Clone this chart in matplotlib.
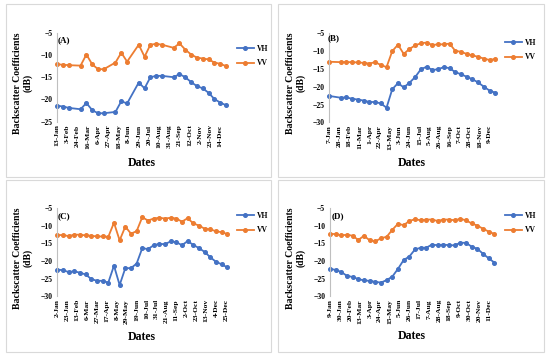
import matplotlib
matplotlib.use("Agg")
import matplotlib.pyplot as plt
import pandas as pd
from matplotlib.lines import Line2D
from matplotlib.patches import Rectangle

plt.rcParams['font.family'] = ['Liberation Serif', 'DejaVu Serif']

# ---------------- data ----------------
year_a = 2020
dates_a = ['13-Jan', '25-Jan', '6-Feb', '1-Mar', '13-Mar', '25-Mar', '6-Apr', '18-Apr',
           '12-May', '24-May', '5-Jun', '29-Jun', '11-Jul', '23-Jul', '4-Aug', '16-Aug',
           '9-Sep', '21-Sep', '3-Oct', '15-Oct', '27-Oct', '8-Nov', '20-Nov', '2-Dec',
           '14-Dec', '26-Dec']
vh_a = [-21.4, -21.6, -21.9, -22.2, -20.8, -22.4, -23.1, -23.1, -22.8, -20.4, -20.9,
        -16.2, -17.5, -15.0, -14.7, -14.7, -15.0, -14.3, -15.0, -16.1, -17.0, -17.5,
        -18.5, -19.9, -20.7, -21.3]
vv_a = [-12.1, -12.2, -12.3, -12.4, -9.9, -12.1, -13.2, -13.2, -11.7, -9.5, -11.5,
        -7.7, -10.4, -7.7, -7.5, -7.7, -8.4, -7.4, -8.8, -9.9, -10.6, -10.8, -11.0,
        -11.7, -12.0, -12.5]
ticks_a = ['13-Jan', '3-Feb', '24-Feb', '16-Mar', '6-Apr', '27-Apr', '18-May', '8-Jun',
           '29-Jun', '20-Jul', '10-Aug', '31-Aug', '21-Sep', '12-Oct', '2-Nov', '23-Nov',
           '14-Dec']

year_b = 2019
dates_b = ['7-Jan', '31-Jan', '12-Feb', '24-Feb', '8-Mar', '20-Mar', '1-Apr', '13-Apr',
           '25-Apr', '7-May', '19-May', '31-May', '12-Jun', '24-Jun', '6-Jul', '18-Jul',
           '30-Jul', '11-Aug', '23-Aug', '4-Sep', '16-Sep', '28-Sep', '10-Oct', '22-Oct',
           '3-Nov', '15-Nov', '27-Nov', '9-Dec', '21-Dec']
vh_b = [-22.6, -23.1, -23.0, -23.4, -23.6, -23.9, -24.3, -24.3, -24.7, -25.9, -20.7,
        -19.0, -20.2, -18.9, -17.3, -15.1, -14.4, -15.3, -15.1, -14.5, -14.8, -15.9,
        -16.5, -17.2, -17.9, -18.8, -20.0, -21.1, -21.7]
vv_b = [-13.0, -13.1, -13.1, -13.1, -13.2, -13.3, -13.5, -13.1, -13.9, -14.5, -10.0,
        -8.2, -10.8, -9.4, -8.4, -7.8, -7.6, -8.3, -8.1, -8.1, -7.9, -9.9, -10.2, -10.8,
        -11.2, -11.6, -12.1, -12.5, -12.2]
ticks_b = ['7-Jan', '28-Jan', '18-Feb', '11-Mar', '1-Apr', '22-Apr', '13-May', '3-Jun',
           '24-Jun', '15-Jul', '5-Aug', '26-Aug', '16-Sep', '7-Oct', '28-Oct', '18-Nov',
           '9-Dec']

year_c = 2018
dates_c = ['2-Jan', '14-Jan', '26-Jan', '7-Feb', '19-Feb', '3-Mar', '15-Mar', '27-Mar',
           '8-Apr', '20-Apr', '2-May', '14-May', '26-May', '7-Jun', '19-Jun', '1-Jul',
           '13-Jul', '25-Jul', '6-Aug', '18-Aug', '30-Aug', '11-Sep', '23-Sep', '5-Oct',
           '17-Oct', '29-Oct', '10-Nov', '22-Nov', '4-Dec', '16-Dec', '28-Dec']
vh_c = [-22.4, -22.6, -23.1, -22.9, -23.3, -23.8, -25.1, -25.6, -25.6, -26.1, -21.3,
        -26.8, -22.0, -22.0, -20.7, -16.3, -16.6, -15.5, -15.1, -15.2, -14.4, -14.6,
        -15.5, -14.3, -15.4, -16.3, -17.4, -18.9, -20.2, -20.9, -21.8]
vv_c = [-12.6, -12.6, -12.9, -12.5, -12.5, -12.7, -12.8, -13.0, -13.0, -13.1, -9.1,
        -14.1, -10.2, -12.2, -11.5, -7.5, -8.5, -7.9, -7.7, -7.9, -7.7, -7.9, -8.8,
        -7.8, -9.3, -9.9, -10.8, -11.0, -11.5, -11.8, -12.3]
ticks_c = ['2-Jan', '23-Jan', '13-Feb', '6-Mar', '27-Mar', '17-Apr', '8-May', '29-May',
           '19-Jun', '10-Jul', '31-Jul', '21-Aug', '11-Sep', '2-Oct', '23-Oct', '13-Nov',
           '4-Dec', '25-Dec']

year_d = 2017
dates_d = ['9-Jan', '21-Jan', '2-Feb', '14-Feb', '26-Feb', '10-Mar', '22-Mar', '3-Apr',
           '15-Apr', '27-Apr', '9-May', '21-May', '2-Jun', '14-Jun', '26-Jun', '8-Jul',
           '20-Jul', '1-Aug', '13-Aug', '25-Aug', '6-Sep', '18-Sep', '30-Sep', '12-Oct',
           '24-Oct', '5-Nov', '17-Nov', '29-Nov', '11-Dec', '23-Dec']
vh_d = [-22.2, -22.5, -23.1, -24.2, -24.5, -25.1, -25.5, -25.6, -25.9, -26.1, -25.4,
        -24.4, -22.2, -19.7, -18.7, -16.7, -16.2, -16.2, -15.3, -15.5, -15.3, -15.5,
        -15.5, -14.8, -14.8, -15.9, -16.5, -17.9, -19.2, -20.4]
vv_d = [-12.3, -12.3, -12.7, -12.5, -12.8, -14.0, -12.8, -14.1, -14.4, -13.5, -13.1,
        -11.1, -9.4, -9.8, -8.6, -8.1, -8.4, -8.2, -8.2, -8.6, -8.2, -8.2, -8.4, -8.0,
        -8.4, -9.3, -9.9, -10.8, -11.6, -12.3]
ticks_d = ['9-Jan', '30-Jan', '20-Feb', '13-Mar', '3-Apr', '24-Apr', '15-May', '5-Jun',
           '26-Jun', '17-Jul', '7-Aug', '28-Aug', '18-Sep', '9-Oct', '30-Oct', '20-Nov',
           '11-Dec']

series_labels = ['VH', 'VV']
panel_labels = ['(A)', '(B)', '(C)', '(D)']
y_label = 'Backscatter Coefficients\n(dB)'
x_label = 'Dates'

# ---------------- layout ----------------
W, H = 550, 358
BLUE = '#4472C4'
ORANGE = '#ED7D31'

def todate(lst, yr):
    return pd.to_datetime([f"{d}-{yr}" for d in lst], format="%d-%b-%Y")

fig = plt.figure(figsize=(W / 100, H / 100), dpi=100)
fig.patch.set_facecolor('white')

panels = [
    dict(dates=dates_a, year=year_a, vh=vh_a, vv=vv_a, ticks=ticks_a, ylim=(-25, -5),
         ax=(57.3, 32.7, 226.0, 121.7), box=(6, 4, 271, 177),
         ylab=(23, 83), xlab=(141.7, 163), plab=(57.5, 40.5), leg=(237, 56)),
    dict(dates=dates_b, year=year_b, vh=vh_b, vv=vv_b, ticks=ticks_b, ylim=(-30, -5),
         ax=(329.3, 33.3, 495.3, 122.3), box=(278, 4, 544, 177),
         ylab=(296, 83), xlab=(411.7, 163), plab=(328, 38), leg=(505, 50)),
    dict(dates=dates_c, year=year_c, vh=vh_c, vv=vv_c, ticks=ticks_c, ylim=(-30, -5),
         ax=(57.3, 208.3, 227.3, 296.3), box=(6, 180, 271, 352),
         ylab=(23, 258), xlab=(141.7, 337), plab=(57.5, 216), leg=(237, 223)),
    dict(dates=dates_d, year=year_d, vh=vh_d, vv=vv_d, ticks=ticks_d, ylim=(-30, -5),
         ax=(330.0, 208.3, 494.3, 296.3), box=(278, 180, 544, 352),
         ylab=(296, 258), xlab=(411.7, 336), plab=(332, 216), leg=(505, 223)),
]

for p, plab in zip(panels, panel_labels):
    x0, y0, x1, y1 = p['box']
    fig.patches.append(Rectangle((x0 / W, 1 - y1 / H), (x1 - x0) / W, (y1 - y0) / H,
                                 transform=fig.transFigure, fill=False,
                                 edgecolor='#D9D9D9', linewidth=0.8, zorder=0))
    l, t, r, b = p['ax']
    ax = fig.add_axes([l / W, 1 - b / H, (r - l) / W, (b - t) / H])
    ax.set_facecolor('none')
    d = todate(p['dates'], p['year'])
    ax.plot(d, p['vh'], color=BLUE, marker='o', markersize=2.6, linewidth=1.3,
            label=series_labels[0], clip_on=False)
    ax.plot(d, p['vv'], color=ORANGE, marker='o', markersize=2.6, linewidth=1.3,
            label=series_labels[1], clip_on=False)
    ax.set_xlim(d[0], d[-1])
    ax.set_ylim(*p['ylim'])
    ax.set_yticks(range(p['ylim'][0], p['ylim'][1] + 1, 5))
    tk = todate(p['ticks'], p['year'])
    ax.set_xticks(tk)
    ax.set_xticklabels(p['ticks'], rotation=90, fontsize=5.4, fontweight='bold')
    for lab in ax.get_yticklabels():
        lab.set_fontsize(5.5)
        lab.set_fontweight('bold')
    ax.tick_params(axis='y', length=0, pad=3.5)
    ax.tick_params(axis='x', length=0, pad=2)
    for s in ['top', 'right', 'bottom']:
        ax.spines[s].set_visible(False)
    ax.spines['left'].set_color('#BFBFBF')
    ax.spines['left'].set_linewidth(0.8)

    fig.text(p['ylab'][0] / W, 1 - p['ylab'][1] / H, y_label, rotation=90,
             ha='center', va='center', fontsize=7, fontweight='bold', linespacing=1.1)
    fig.text(p['xlab'][0] / W, 1 - p['xlab'][1] / H, x_label, ha='center',
             va='center', fontsize=8.5, fontweight='bold')
    fig.text(p['plab'][0] / W, 1 - p['plab'][1] / H, plab, ha='left', va='center',
             fontsize=6.5, fontweight='bold')
    handles = [Line2D([], [], color=BLUE, marker='o', markersize=2.6, linewidth=1.3),
               Line2D([], [], color=ORANGE, marker='o', markersize=2.6, linewidth=1.3)]
    fig.legend(handles, series_labels, loc='center left',
               bbox_to_anchor=(p['leg'][0] / W, 1 - p['leg'][1] / H),
               frameon=False, prop={'size': 5.5, 'weight': 'bold'},
               handlelength=2.2, handletextpad=0.4, labelspacing=0.9,
               borderpad=0, borderaxespad=0)

fig.savefig('out.png', dpi=100, facecolor='white')
